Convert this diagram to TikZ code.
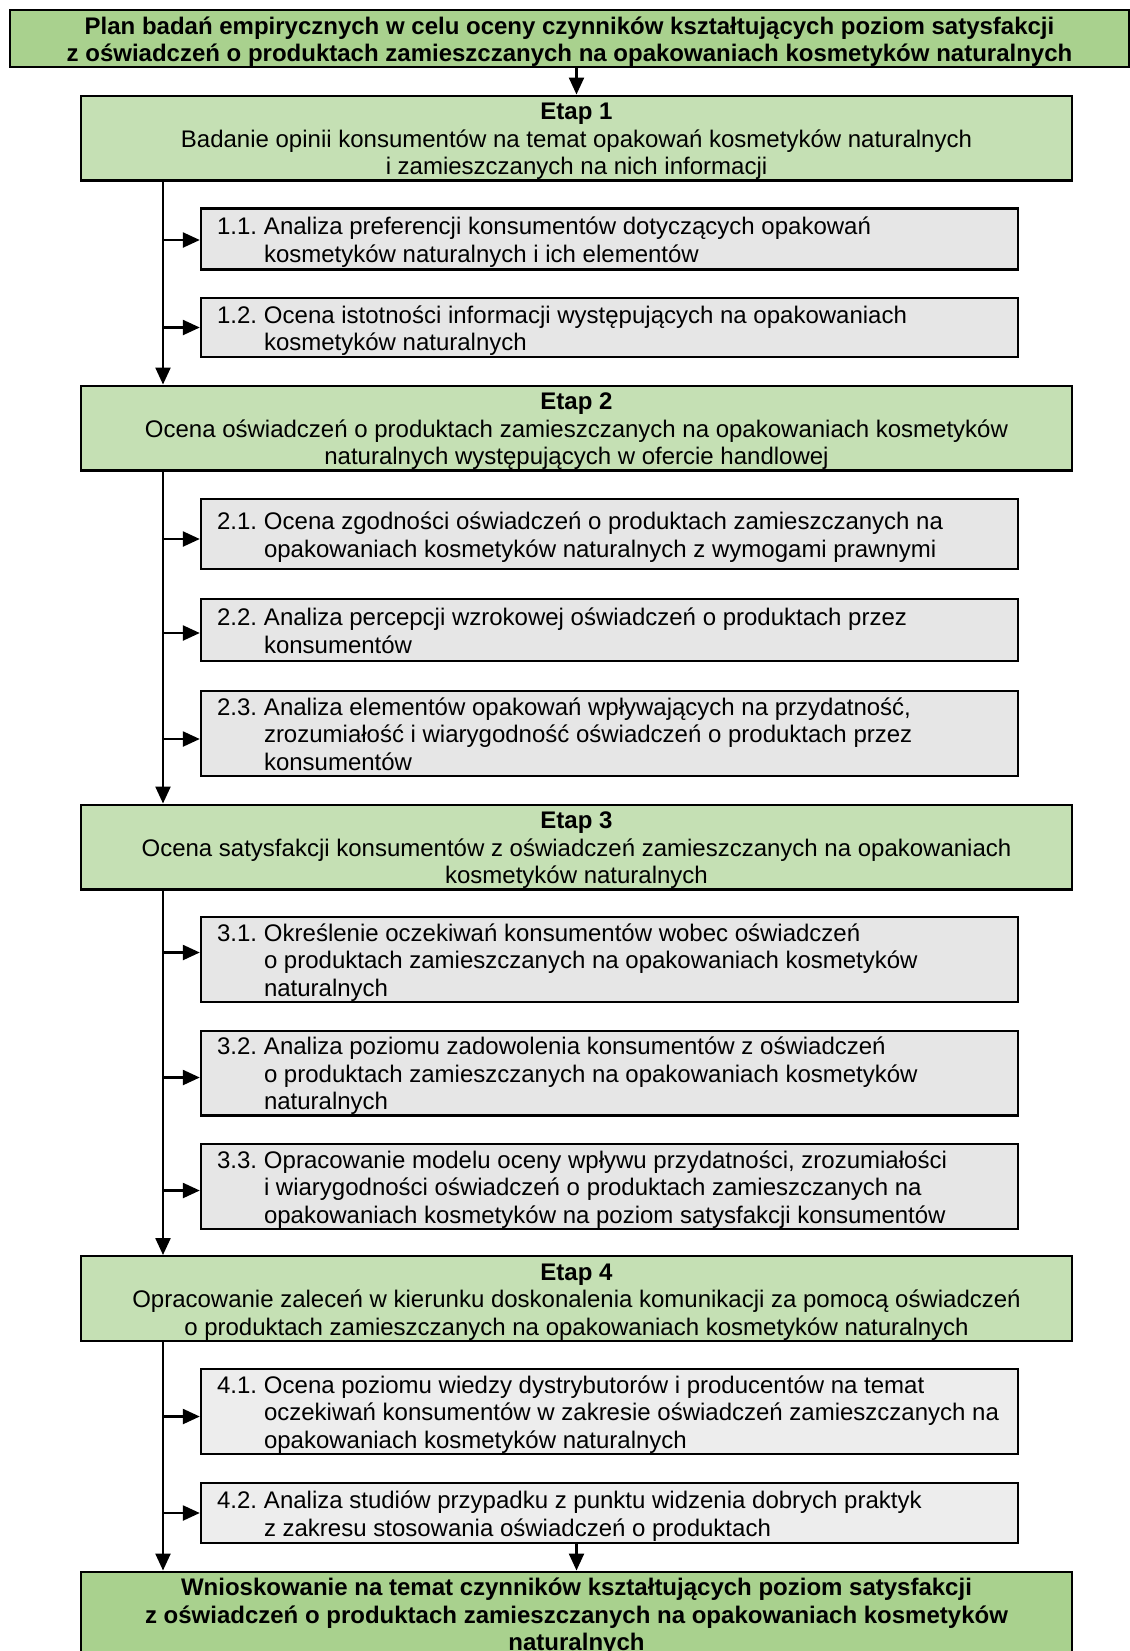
\documentclass[tikz,border=0pt]{standalone}
\usepackage{fontspec}
\setmainfont{Liberation Sans}
\usetikzlibrary{arrows.meta,calc}

\definecolor{titlegreen}{HTML}{A9D18E}
\definecolor{stagegreen}{HTML}{C5E0B4}
\definecolor{taskgray}{HTML}{E6E6E6}
\definecolor{tasklight}{HTML}{EDEDED}

% fixed line boxes for the first and the last line of a text block
\newcommand{\tstrut}{\rule{0pt}{12pt}}
\newcommand{\bstrut}{\rule[-2.7pt]{0pt}{2.7pt}}
% numbered task text with a hanging indent
\newcommand{\numtext}[2]{\noindent\parbox[t]{23.5pt}{\tstrut#1}\parbox[t]{369pt}{\raggedright\tstrut #2\bstrut}}

\begin{document}
\begin{tikzpicture}[x=0.5pt,y=-0.5pt,
  every node/.style={font=\fontsize{12}{13.8}\selectfont, line width=1.2pt, draw=black},
  headbox/.style={fill=titlegreen, align=center, inner sep=0pt,
    font=\fontsize{12}{13.8}\selectfont\bfseries},
  stagebox/.style={fill=stagegreen, align=center, inner sep=0pt,
    minimum width=495.5pt},
  taskbox/.style={fill=taskgray, inner xsep=8pt, inner ysep=0pt,
    minimum width=408.5pt},
  arr/.style={line width=1.2pt, -{Triangle[length=8.5pt,width=7.5pt]}}]

\useasboundingbox (0,0) rectangle (1130,1651);
\clip (0,0) rectangle (1130,1651);

% headline
\node[headbox, minimum width=559.5pt, minimum height=28.5pt] (title) at (569.5,38.5)
  {\tstrut Plan badań empirycznych w celu oceny czynników kształtujących poziom satysfakcji\\
   z oświadczeń o produktach zamieszczanych na opakowaniach kosmetyków naturalnych\bstrut};

% stage 1
\node[stagebox, minimum height=42pt] (e1) at (576.5,138)
  {\tstrut\textbf{Etap 1}\\Badanie opinii konsumentów na temat opakowań kosmetyków naturalnych\\
   i zamieszczanych na nich informacji\bstrut};
\node[taskbox, minimum height=30.5pt] (s11) at (609.5,239)
  {\numtext{1.1.}{Analiza preferencji konsumentów dotyczących opakowań\\kosmetyków naturalnych i ich elementów}};
\node[taskbox, minimum height=29.5pt] (s12) at (609.5,327.5)
  {\numtext{1.2.}{Ocena istotności informacji występujących na opakowaniach\\kosmetyków naturalnych}};

% stage 2
\node[stagebox, minimum height=42pt] (e2) at (576.5,428)
  {\tstrut\textbf{Etap 2}\\Ocena oświadczeń o produktach zamieszczanych na opakowaniach kosmetyków\\
   naturalnych występujących w ofercie handlowej\bstrut};
\node[taskbox, minimum height=35pt] (s21) at (609.5,534)
  {\numtext{2.1.}{Ocena zgodności oświadczeń o produktach zamieszczanych na\\opakowaniach kosmetyków naturalnych z wymogami prawnymi}};
\node[taskbox, minimum height=31pt] (s22) at (609.5,630)
  {\numtext{2.2.}{Analiza percepcji wzrokowej oświadczeń o produktach przez\\konsumentów}};
\node[taskbox, minimum height=41.5pt] (s23) at (609.5,733.5)
  {\numtext{2.3.}{Analiza elementów opakowań wpływających na przydatność,\\zrozumiałość i wiarygodność oświadczeń o produktach przez\\konsumentów}};

% stage 3
\node[stagebox, minimum height=42pt] (e3) at (576.5,847)
  {\tstrut\textbf{Etap 3}\\Ocena satysfakcji konsumentów z oświadczeń zamieszczanych na opakowaniach\\
   kosmetyków naturalnych\bstrut};
\node[taskbox, minimum height=41.5pt] (s31) at (609.5,959.5)
  {\numtext{3.1.}{Określenie oczekiwań konsumentów wobec oświadczeń\\o produktach zamieszczanych na opakowaniach kosmetyków\\naturalnych}};
\node[taskbox, minimum height=41pt] (s32) at (609.5,1073)
  {\numtext{3.2.}{Analiza poziomu zadowolenia konsumentów z oświadczeń\\o produktach zamieszczanych na opakowaniach kosmetyków\\naturalnych}};
\node[taskbox, minimum height=41.5pt] (s33) at (609.5,1186.5)
  {\numtext{3.3.}{Opracowanie modelu oceny wpływu przydatności, zrozumiałości\\i wiarygodności oświadczeń o produktach zamieszczanych na\\opakowaniach kosmetyków na poziom satysfakcji konsumentów}};

% stage 4
\node[stagebox, minimum height=41.5pt] (e4) at (576.5,1298.5)
  {\tstrut\textbf{Etap 4}\\Opracowanie zaleceń w kierunku doskonalenia komunikacji za pomocą oświadczeń\\
   o produktach zamieszczanych na opakowaniach kosmetyków naturalnych\bstrut};
\node[taskbox, fill=tasklight, minimum height=41.5pt] (s41) at (609.5,1411.5)
  {\numtext{4.1.}{Ocena poziomu wiedzy dystrybutorów i producentów na temat\\oczekiwań konsumentów w zakresie oświadczeń zamieszczanych na\\opakowaniach kosmetyków naturalnych}};
\node[taskbox, fill=tasklight, minimum height=30pt] (s42) at (609.5,1513)
  {\numtext{4.2.}{Analiza studiów przypadku z punktu widzenia dobrych praktyk\\z zakresu stosowania oświadczeń o produktach}};

% conclusions
\node[headbox, minimum width=495.5pt, minimum height=42pt] (fin) at (576.5,1614)
  {\tstrut Wnioskowanie na temat czynników kształtujących poziom satysfakcji\\
   z oświadczeń o produktach zamieszczanych na opakowaniach kosmetyków\\
   naturalnych\bstrut};

% left spine of the flow
\coordinate (spine) at (163,0);

\draw[arr] (title.south -| e1.north) -- (e1.north);
\draw[arr] (e1.south -| spine) -- (e2.north -| spine);
\draw[arr] (e2.south -| spine) -- (e3.north -| spine);
\draw[arr] (e3.south -| spine) -- (e4.north -| spine);
\draw[arr] (e4.south -| spine) -- (fin.north -| spine);
\draw[arr] (s42.south -| fin.north) -- (fin.north);

% branches from the spine into the tasks (offset = px below the box middle)
\foreach \t/\d in {s11/1,s12/0,s21/5,s22/3,s23/5.5,s31/-7,s32/4.5,s33/4,s41/5,s42/0} {
  \coordinate (\t-in) at ($(\t.west)+(0,\d)$);
  \draw[arr] (\t-in -| spine) -- (\t-in);
}

\end{tikzpicture}
\end{document}
